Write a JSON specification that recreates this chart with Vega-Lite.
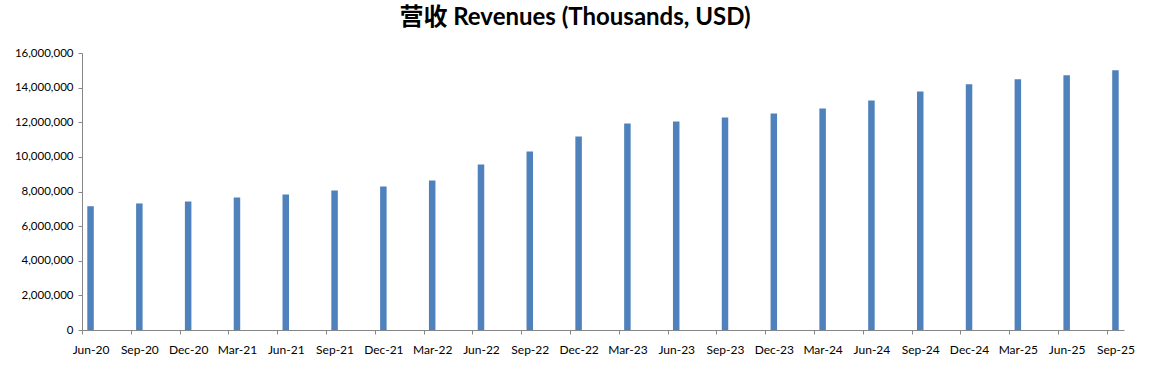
{
  "$schema": "https://vega.github.io/schema/vega-lite/v6.json",
  "autosize": "none",
  "width": 1042,
  "height": 277,
  "padding": {"left": 82, "top": 53, "right": 29, "bottom": 35},
  "background": "white",
  "title": {
    "text": "营收 Revenues (Thousands, USD)",
    "font": "Lato, Noto Sans CJK SC",
    "fontSize": 24,
    "fontWeight": "bold",
    "color": "#000000",
    "anchor": "middle",
    "baseline": "alphabetic",
    "offset": 25,
    "dx": -28,
    "dy": 27
  },
  "config": {
    "view": {"stroke": null},
    "axis": {
      "labelFont": "Lato",
      "labelColor": "#000000",
      "domainColor": "#868686",
      "tickColor": "#868686",
      "grid": false,
      "title": null
    }
  },
  "data": {
    "values": [
      {"quarter": "Jun-20", "revenue": 7150000},
      {"quarter": "Sep-20", "revenue": 7310000},
      {"quarter": "Dec-20", "revenue": 7420000},
      {"quarter": "Mar-21", "revenue": 7650000},
      {"quarter": "Jun-21", "revenue": 7830000},
      {"quarter": "Sep-21", "revenue": 8060000},
      {"quarter": "Dec-21", "revenue": 8290000},
      {"quarter": "Mar-22", "revenue": 8640000},
      {"quarter": "Jun-22", "revenue": 9560000},
      {"quarter": "Sep-22", "revenue": 10310000},
      {"quarter": "Dec-22", "revenue": 11180000},
      {"quarter": "Mar-23", "revenue": 11930000},
      {"quarter": "Jun-23", "revenue": 12050000},
      {"quarter": "Sep-23", "revenue": 12280000},
      {"quarter": "Dec-23", "revenue": 12510000},
      {"quarter": "Mar-24", "revenue": 12800000},
      {"quarter": "Jun-24", "revenue": 13260000},
      {"quarter": "Sep-24", "revenue": 13780000},
      {"quarter": "Dec-24", "revenue": 14190000},
      {"quarter": "Mar-25", "revenue": 14480000},
      {"quarter": "Jun-25", "revenue": 14710000},
      {"quarter": "Sep-25", "revenue": 15000000}
    ]
  },
  "mark": {"type": "bar", "color": "#4F81BD", "size": 6.5},
  "encoding": {
    "x": {
      "field": "quarter",
      "type": "ordinal",
      "sort": null,
      "scale": {"type": "point", "padding": 0.175},
      "axis": {
        "labelAngle": 0,
        "labelFontSize": 12,
        "labelPadding": 10,
        "tickSize": 4,
        "tickOffset": -8.6,
        "labelOffset": 8.6
      }
    },
    "y": {
      "field": "revenue",
      "type": "quantitative",
      "scale": {"domain": [0, 16000000], "nice": false},
      "axis": {
        "values": [0, 2000000, 4000000, 6000000, 8000000, 10000000, 12000000, 14000000, 16000000],
        "format": ",d",
        "labelFontSize": 11.5,
        "tickSize": 4,
        "labelPadding": 5
      }
    }
  }
}
